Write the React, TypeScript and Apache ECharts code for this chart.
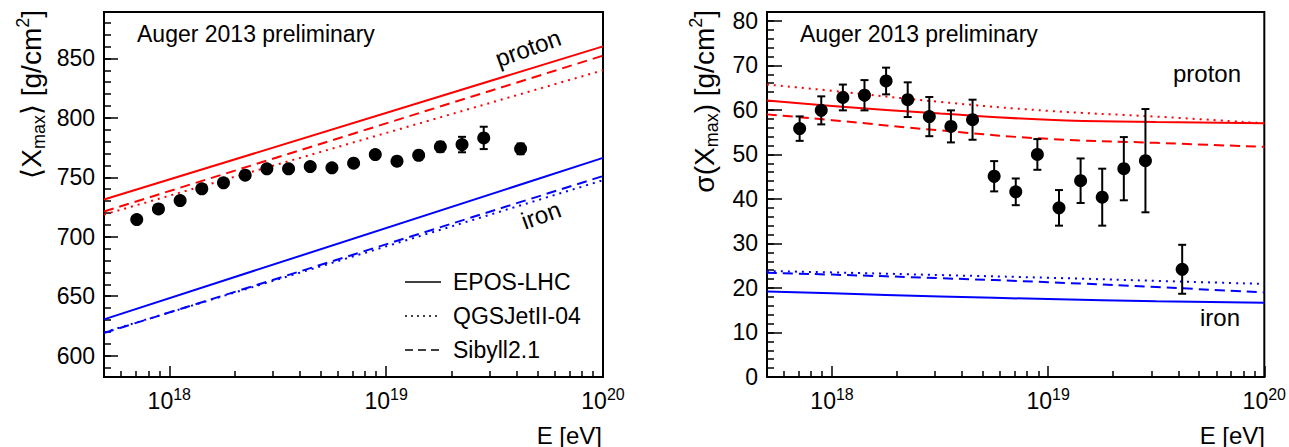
import React, { useEffect, useRef } from 'react';
import * as echarts from 'echarts';

// ---------- data (log10(E/eV)) ----------
const logE = [17.85, 17.95, 18.05, 18.15, 18.25, 18.35, 18.45, 18.55, 18.65, 18.75, 18.85, 18.95, 19.05, 19.15, 19.25, 19.35, 19.45, 19.62];
const meanXmax = [714.4, 723.4, 730.4, 740.3, 745.3, 751.7, 757.1, 757.1, 759.0, 757.9, 761.8, 769.1, 763.5, 768.5, 775.6, 777.5, 783.1, 773.9];
const meanXmaxErr = [1.5, 1.3, 1.3, 1.4, 1.6, 1.8, 2.0, 2.2, 2.5, 2.8, 3.0, 3.3, 3.5, 3.8, 4.2, 6.5, 9.4, 4.5];
const sigmaXmax = [55.8, 59.9, 62.8, 63.3, 66.5, 62.3, 58.5, 56.3, 57.8, 45.1, 41.6, 50.0, 38.0, 44.1, 40.4, 46.8, 48.6, 24.2];
const sigmaXmaxErr = [2.75, 3.15, 2.9, 3.4, 3.0, 3.9, 4.4, 3.6, 4.5, 3.4, 3.0, 3.45, 4.0, 5.0, 6.4, 7.1, 11.6, 5.5];

// model predictions, <Xmax>
const meanModelLogE = [17.699, 20];
const meanEposP = [731.3, 860.1];
const meanQgsP = [718.6, 840.0];
const meanSibP = [721.2, 852.3];
const meanEposFe = [630.5, 766.3];
const meanQgsFe = [619.5, 747.5];
const meanSibFe = [619.0, 751.0];

// model predictions, sigma(Xmax)
const sigmaModelLogE = [17.699, 18, 18.5, 19, 19.5, 20];
const sigmaEposP = [62.1, 60.9, 59.2, 57.8, 57.3, 57.0];
const sigmaQgsP = [65.7, 64.3, 61.8, 59.8, 58.5, 57.0];
const sigmaSibP = [59.0, 57.7, 55.4, 53.5, 52.6, 51.7];
const sigmaEposFe = [19.2, 18.8, 18.1, 17.5, 17.0, 16.7];
const sigmaQgsFe = [23.8, 23.5, 22.9, 22.3, 21.6, 20.9];
const sigmaSibFe = [23.4, 23.0, 22.2, 21.3, 20.2, 19.0];

// axes
const X_MIN = Math.log10(5e17);
const X_MAX = 20;
const xMajor = [18, 19, 20];
const xMinorMultipliers = [2, 3, 4, 5, 6, 7, 8, 9];
const xDecades = [17, 18, 19];
const meanYMajor = [600, 650, 700, 750, 800, 850];
const sigmaYMajor = [0, 10, 20, 30, 40, 50, 60, 70, 80];

const FONT = '"Liberation Sans", Arial, Helvetica, sans-serif';
const RED = '#ff0000';
const BLUE = '#0000ff';
const DOT = [2, 5];
const DASH = [10, 6];

const xMinor: number[] = [];
xDecades.forEach((d) => xMinorMultipliers.forEach((k) => {
  const v = d + Math.log10(k);
  if (v >= X_MIN - 1e-9 && v <= X_MAX) xMinor.push(v);
}));
const range = (a: number, b: number, s: number) => { const r: number[] = []; for (let v = a; v <= b + 1e-9; v += s) r.push(v); return r; };
const meanYMinor = range(590, 880, 10);
const sigmaYMinor = range(0, 82, 2);

function xAxes(gridIndex: number) {
  return [
    {
      gridIndex, type: 'value', min: X_MIN, max: X_MAX, position: 'bottom',
      axisLine: { show: true, onZero: false, lineStyle: { color: '#000', width: 2 } },
      axisTick: { show: true, inside: true, length: 11, customValues: xMajor, lineStyle: { color: '#000', width: 1.5 } },
      axisLabel: {
        show: true, customValues: xMajor, margin: 9,
        formatter: (v: number) => `{b|10}{s|${Math.round(v)}}`,
        rich: {
          b: { fontFamily: FONT, fontSize: 23, color: '#000', lineHeight: 30 },
          s: { fontFamily: FONT, fontSize: 16, color: '#000', lineHeight: 16, verticalAlign: 'top' },
        },
      },
      splitLine: { show: false },
    },
    {
      gridIndex, type: 'value', min: X_MIN, max: X_MAX, position: 'bottom',
      axisLine: { show: false, onZero: false },
      axisTick: { show: true, inside: true, length: 6, customValues: xMinor, lineStyle: { color: '#000', width: 1.5 } },
      axisLabel: { show: false },
      splitLine: { show: false },
    },
  ];
}

function yAxes(gridIndex: number, min: number, max: number, major: number[], minor: number[], majorLen: number) {
  return [
    {
      gridIndex, type: 'value', min, max, position: 'left',
      axisLine: { show: true, onZero: false, lineStyle: { color: '#000', width: 2 } },
      axisTick: { show: true, inside: true, length: majorLen, customValues: major, lineStyle: { color: '#000', width: 1.5 } },
      axisLabel: { show: true, customValues: major, margin: 9, fontFamily: FONT, fontSize: 23, color: '#000' },
      splitLine: { show: false },
    },
    {
      gridIndex, type: 'value', min, max, position: 'left',
      axisLine: { show: false, onZero: false },
      axisTick: { show: true, inside: true, length: 7, customValues: minor, lineStyle: { color: '#000', width: 1.5 } },
      axisLabel: { show: false },
      splitLine: { show: false },
    },
  ];
}

function modelLine(xs: number[], ys: number[], color: string, type: any, xi: number, yi: number, smooth: boolean) {
  return {
    type: 'line', xAxisIndex: xi, yAxisIndex: yi, silent: true, symbol: 'none', smooth,
    data: xs.map((x, i) => [x, ys[i]]),
    lineStyle: { color, width: 2, type },
    z: 2,
  };
}

function errorSeries(ys: number[], errs: number[], xi: number, yi: number) {
  return {
    type: 'custom', xAxisIndex: xi, yAxisIndex: yi, silent: true, z: 3,
    data: logE.map((x, i) => [x, ys[i], errs[i]]),
    encode: { x: 0, y: 1 },
    renderItem: (params: any, api: any) => {
      const x = api.value(0), y = api.value(1), e = api.value(2);
      const t = api.coord([x, y + e]);
      const b = api.coord([x, y - e]);
      const hw = 4;
      const st = { stroke: '#000', lineWidth: 2 };
      return {
        type: 'group',
        children: [
          { type: 'line', shape: { x1: t[0], y1: t[1], x2: b[0], y2: b[1] }, style: st },
          { type: 'line', shape: { x1: t[0] - hw, y1: t[1], x2: t[0] + hw, y2: t[1] }, style: st },
          { type: 'line', shape: { x1: b[0] - hw, y1: b[1], x2: b[0] + hw, y2: b[1] }, style: st },
        ],
      };
    },
  };
}

function pointSeries(ys: number[], xi: number, yi: number) {
  return {
    type: 'scatter', xAxisIndex: xi, yAxisIndex: yi, silent: true, z: 4,
    symbol: 'circle', symbolSize: 13,
    itemStyle: { color: '#000', opacity: 1 },
    data: logE.map((x, i) => [x, ys[i]]),
  };
}

const txt = (x: number, y: number, text: string, extra: any = {}) => ({
  type: 'text', x, y, silent: true, ...extra,
  style: { text, fontFamily: FONT, fontSize: 23, fill: '#000', align: 'left', verticalAlign: 'middle', ...(extra.style || {}) },
});

const titleRich = {
  m: { fontFamily: FONT, fontSize: 28, fill: '#000', lineHeight: 34 },
  s: { fontFamily: FONT, fontSize: 18, fill: '#000', lineHeight: 20, verticalAlign: 'bottom' },
  p: { fontFamily: FONT, fontSize: 18, fill: '#000', lineHeight: 20, verticalAlign: 'top' },
};

const legendLine = (y: number, dash: any) => ({
  type: 'line', silent: true,
  shape: { x1: 405, y1: y, x2: 441, y2: y },
  style: { stroke: '#000', lineWidth: 1.5, lineDash: dash },
});

export default function App() {
  const ref = useRef<HTMLDivElement>(null);
  useEffect(() => {
    if (!ref.current) return;
    const chart = echarts.init(ref.current, null, { renderer: 'svg' });
    const option: any = {
      animation: false,
      backgroundColor: '#fff',
      grid: [
        { left: 104, top: 12, width: 499, height: 365, show: true, borderColor: '#000', borderWidth: 2, containLabel: false },
        { left: 767, top: 12, width: 499, height: 365, show: true, borderColor: '#000', borderWidth: 2, containLabel: false },
      ],
      xAxis: [...xAxes(0), ...xAxes(1)],
      yAxis: [
        ...yAxes(0, 582, 889, meanYMajor, meanYMinor, 14),
        ...yAxes(1, 0, 82, sigmaYMajor, sigmaYMinor, 15),
      ],
      series: [
        modelLine(meanModelLogE, meanEposP, RED, 'solid', 0, 0, false),
        modelLine(meanModelLogE, meanQgsP, RED, DOT, 0, 0, false),
        modelLine(meanModelLogE, meanSibP, RED, DASH, 0, 0, false),
        modelLine(meanModelLogE, meanEposFe, BLUE, 'solid', 0, 0, false),
        modelLine(meanModelLogE, meanQgsFe, BLUE, DOT, 0, 0, false),
        modelLine(meanModelLogE, meanSibFe, BLUE, DASH, 0, 0, false),
        errorSeries(meanXmax, meanXmaxErr, 0, 0),
        pointSeries(meanXmax, 0, 0),
        modelLine(sigmaModelLogE, sigmaEposP, RED, 'solid', 2, 2, true),
        modelLine(sigmaModelLogE, sigmaQgsP, RED, DOT, 2, 2, true),
        modelLine(sigmaModelLogE, sigmaSibP, RED, DASH, 2, 2, true),
        modelLine(sigmaModelLogE, sigmaEposFe, BLUE, 'solid', 2, 2, true),
        modelLine(sigmaModelLogE, sigmaQgsFe, BLUE, DOT, 2, 2, true),
        modelLine(sigmaModelLogE, sigmaSibFe, BLUE, DASH, 2, 2, true),
        errorSeries(sigmaXmax, sigmaXmaxErr, 2, 2),
        pointSeries(sigmaXmax, 2, 2),
      ],
      graphic: [
        // left panel texts
        txt(137, 34, 'Auger 2013 preliminary'),
        txt(528, 48, 'proton', { rotation: (20 * Math.PI) / 180, style: { align: 'center', fontSize: 24 } }),
        txt(541, 215, 'iron', { rotation: (20 * Math.PI) / 180, style: { align: 'center', fontSize: 24 } }),
        legendLine(282, null),
        legendLine(316, [2, 4]),
        legendLine(350, [8, 5]),
        txt(453, 282, 'EPOS-LHC'),
        txt(453, 316, 'QGSJetII-04'),
        txt(453, 350, 'Sibyll2.1'),
        txt(602, 435, 'E [eV]', { style: { align: 'right', fontSize: 24 } }),
        {
          type: 'text', x: 31, y: 10, rotation: Math.PI / 2, silent: true,
          style: { text: '{m|⟨X}{s|max}{m|⟩ [g/cm}{p|2}{m|]}', rich: titleRich, align: 'right', verticalAlign: 'middle', fontFamily: FONT, fontSize: 28, fill: '#000' },
        },
        // right panel texts
        txt(800, 34, 'Auger 2013 preliminary'),
        txt(1207, 73, 'proton', { style: { align: 'center', fontSize: 24 } }),
        txt(1220, 317, 'iron', { style: { align: 'center', fontSize: 24 } }),
        txt(1265, 435, 'E [eV]', { style: { align: 'right', fontSize: 24 } }),
        {
          type: 'text', x: 704, y: 10, rotation: Math.PI / 2, silent: true,
          style: { text: '{m|σ(X}{s|max}{m|) [g/cm}{p|2}{m|]}', rich: titleRich, align: 'right', verticalAlign: 'middle', fontFamily: FONT, fontSize: 28, fill: '#000' },
        },
      ],
    };
    chart.setOption(option);
    return () => chart.dispose();
  }, []);
  return (
    <div
      ref={ref}
      style={{ position: 'fixed', left: 0, top: 0, width: 1289, height: 447, background: '#fff' }}
    />
  );
}
